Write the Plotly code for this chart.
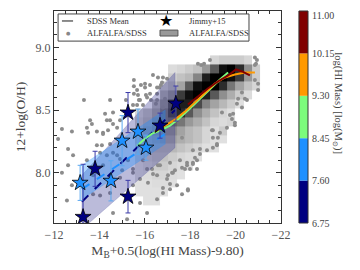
import plotly.graph_objects as go

# ---------------- data ----------------
# ALFALFA/SDSS individual galaxies (x = M_B+0.5(logMHI-9.8), y = 12+log(O/H))
pts_x = [-12.35,-13.32,-14.47,-15.52,-15.52,-15.83,-16.23,-16.36,-16.58,-16.71,-15.52,-16.05,-16.27,-16.54,
         -15.92,-15.66,-15.74,-14.60,-14.33,-13.59,-13.67,-13.45,-14.91,-16.49,-16.89,
         -16.80,-16.63,-16.01,-15.70,-16.10,-16.54,-15.17,-16.80,-15.48,-14.47,-14.78,-13.89,-14.16,-13.50,-12.79,
         -12.18,-12.62,-12.84,-12.62,-12.35,-12.79,-12.57,-13.89,-14.03,-14.33,-14.60,-14.91,-14.16,-14.47,-14.03,
         -14.60,-15.22,-15.79,-16.10,-16.54,-16.80,-17.11,-17.42,-15.48,-16.54,-16.98,-17.24,-16.10,-16.67,-17.11,
         -15.48,-15.00,-13.72,-13.72,-13.45,
         -17.64,-18.12,-17.86,-17.64,-18.12,-17.99,-18.30,-18.21,-18.43,-19.00,-19.18,-17.90,-17.77,
         -18.87,-18.34,-18.48,-20.94,-20.90,-20.85,-20.99,-20.28,-20.11,-20.28,-20.50,-19.75,-19.84,-19.97,-19.31,-19.00,
         -16.98,-16.76,-20.99,-20.06,-19.62,
         -18.61,-16.01,-15.66,-16.23,-16.54,-15.79,-20.41,-20.85,-20.85,
         -14.16,-14.38,-14.60,-14.25,-14.47,-14.11,-14.78,-15.26,-15.48,-15.92,-16.32,-16.36,-16.58,-17.02,-17.20,
         -17.33,-17.11,-16.80,-16.14,-15.79,-17.55,-17.86,-18.12,-18.30,-18.43,-18.74,-19.00,-19.22,-18.96,-19.18,
         -19.97,-19.89,-19.40,-17.90,-14.91,-17.64]
pts_y = [8.35,8.58,8.58,8.74,8.69,8.70,8.70,8.78,8.76,8.70,8.63,8.62,8.58,8.63,
         8.54,8.54,8.58,8.48,8.42,8.42,8.39,8.36,8.42,8.55,8.59,
         8.76,8.68,8.68,8.62,8.60,8.58,8.58,8.52,8.54,8.42,8.36,8.33,8.32,8.32,8.33,
         8.27,8.19,8.14,8.06,8.00,7.90,7.78,8.22,8.16,8.14,8.16,8.11,8.06,7.84,7.82,
         7.68,7.63,7.76,7.68,7.79,7.84,7.87,7.90,7.90,7.98,7.95,8.00,8.03,8.06,8.08,
         8.00,8.02,7.83,7.98,8.10,
         8.28,8.18,8.08,8.04,8.08,8.03,8.03,8.12,8.19,8.28,8.22,7.86,8.03,
         8.90,8.87,8.86,8.90,8.87,8.86,8.66,8.64,8.59,8.52,8.58,8.46,8.43,8.40,8.32,8.34,
         8.75,8.72,8.71,8.55,8.36,
         8.87,8.71,8.66,8.63,8.68,8.58,8.59,8.74,8.92,
         8.31,8.34,8.39,8.47,8.23,8.22,8.14,8.10,8.03,8.10,8.03,7.99,8.06,7.98,8.00,
         8.02,7.91,7.88,7.92,7.95,8.10,8.06,8.07,8.10,8.15,8.18,8.20,8.28,8.34,8.23,
         8.38,8.47,8.48,7.87,7.96,7.83]

# ALFALFA/SDSS 2D density (relative, 0 = empty), rows listed from top (high O/H) to bottom
hist_x_edges = [-15.57,-15.94,-16.31,-16.67,-17.04,-17.41,-17.78,-18.14,-18.51,
                -18.88,-19.25,-19.61,-19.98,-20.35,-20.72,-21.08,-21.45]
hist_y_edges_top_down = [8.936,8.866,8.795,8.725,8.654,8.584,8.514,8.443,8.373,
                         8.302,8.232,8.162,8.091,8.021,7.950,7.880,7.810,7.739]
hist_density_top_down = [
    [0,0,0,0,0,0,0,0,0,.15,.2,.2,.2,.15,0,0],
    [0,0,0,0,.12,.15,.2,.25,.45,.7,.95,1,.85,.5,.2,0],
    [0,0,0,0,.2,.25,.3,.55,.9,1,1,.95,.8,.45,.2,0],
    [0,0,0,.2,.3,.4,.7,.95,1,1,.85,.6,.4,.25,.15,0],
    [0,0,0,.35,.5,.8,.95,1,.9,.7,.5,.35,.2,.12,0,0],
    [0,0,.3,.5,.75,.9,.9,.75,.55,.4,.3,.2,.1,0,0,0],
    [.15,.25,.4,.6,.8,.85,.7,.5,.35,.25,.15,.1,0,0,0,0],
    [.2,.3,.45,.6,.65,.6,.45,.35,.25,.15,.12,.15,0,0,0,0],
    [.2,.35,.45,.5,.5,.4,.3,.25,.15,.1,.2,0,0,0,0,0],
    [.2,.3,.35,.4,.4,.35,.3,.25,.15,.1,.1,0,0,0,0,0],
    [.15,.25,.3,.3,.3,.25,.2,.15,.1,.1,0,0,0,0,0,0],
    [.12,.2,.25,.25,.2,.15,.12,.1,0,0,0,0,0,0,0,0],
    [.1,.15,.2,.2,.15,.12,.1,0,0,0,0,0,0,0,0,0],
    [.1,.12,.15,.15,.12,.1,0,0,0,0,0,0,0,0,0,0],
    [.1,.1,.12,.12,.1,0,0,0,0,0,0,0,0,0,0,0],
    [.1,.1,.1,.1,0,0,0,0,0,0,0,0,0,0,0,0],
    [0,.1,.1,0,0,0,0,0,0,0,0,0,0,0,0,0],
]

# SDSS mean relations per HI-mass bin
green_x = [-15.66,-16.01,-16.32,-16.67,-17.11,-17.55,-17.99,-18.43,-18.87,-19.31,-19.67]
green_y = [8.216,8.272,8.312,8.336,8.376,8.44,8.512,8.592,8.672,8.744,8.80]
orange_x = [-16.45,-16.89,-17.33,-17.77,-18.21,-18.65,-19.09,-19.53,-19.97,-20.41,-20.85]
orange_y = [8.328,8.376,8.424,8.488,8.56,8.64,8.712,8.76,8.784,8.80,8.80]
red_x = [-17.90,-18.34,-18.78,-19.22,-19.67,-20.02,-20.28,-20.63]
red_y = [8.544,8.608,8.672,8.728,8.776,8.824,8.808,8.776]

# ALFALFA/SDSS fit bands (corners) and fit lines
navy_band_x = [-13.23,-13.23,-17.33,-17.33]
navy_band_y = [7.55,7.98,8.80,8.20]
blue_band_x = [-13.23,-13.23,-16.9,-16.9]
blue_band_y = [7.79,8.06,8.50,8.23]
navy_fit_x = [-13.23,-17.33]
navy_fit_y = [7.77,8.50]
blue_fit_x = [-13.23,-16.9]
blue_fit_y = [7.87,8.31]

# Jimmy+15 galaxies
jn_x = [-13.28,-13.81,-15.26,-15.26,-16.67,-17.37]
jn_y = [7.648,8.032,7.81,8.48,8.376,8.552]
jn_err = [0.42,0.14,0.13,0.16,0.10,0.14]
jb_x = [-13.15,-14.51,-15.00,-15.70,-16.05]
jb_y = [7.92,7.936,8.256,8.328,8.20]
jb_err = [0.14,0.16,0.20,0.18,0.10]

cbar_ticks = ["6.75", "7.60", "8.45", "9.30", "10.15", "11.00"]
bin_colors = ["#000080", "#1E90FF", "#7CFC7C", "#FF9900", "#800000"]

FONT = "Liberation Serif"

fig = go.Figure()

fig.add_trace(go.Scatter(x=pts_x, y=pts_y, mode="markers",
                         marker=dict(size=4, color="#8c8c8c"), showlegend=False, hoverinfo="skip"))

# heatmap (bottom-up)
ye = hist_y_edges_top_down[::-1]
zz = [[(v if v > 0 else None) for v in row] for row in hist_density_top_down[::-1]]
fig.add_trace(go.Heatmap(x=hist_x_edges, y=ye, z=zz, zmin=0.1, zmax=1,
                         colorscale=[[0, "#e0e0e0"], [0.5, "#858585"], [1, "#000000"]],
                         showscale=False, hoverinfo="skip"))

fig.add_trace(go.Scatter(x=navy_band_x + [navy_band_x[0]], y=navy_band_y + [navy_band_y[0]],
                         fill="toself", fillcolor="rgba(60,60,150,0.35)", mode="lines",
                         line=dict(width=0.5, color="rgba(60,60,150,0.4)"), showlegend=False))
fig.add_trace(go.Scatter(x=blue_band_x + [blue_band_x[0]], y=blue_band_y + [blue_band_y[0]],
                         fill="toself", fillcolor="rgba(30,144,255,0.35)", mode="lines",
                         line=dict(width=0.5, color="rgba(30,144,255,0.4)"), showlegend=False))

fig.add_trace(go.Scatter(x=navy_fit_x, y=navy_fit_y, mode="lines",
                         line=dict(color="#000080", width=2, dash="dash"), showlegend=False))
fig.add_trace(go.Scatter(x=blue_fit_x, y=blue_fit_y, mode="lines",
                         line=dict(color="#1E90FF", width=2, dash="dash"), showlegend=False))

for lx, ly, c in [(green_x, green_y, bin_colors[2]), (orange_x, orange_y, bin_colors[3]),
                  (red_x, red_y, bin_colors[4])]:
    fig.add_trace(go.Scatter(x=lx, y=ly, mode="lines", line=dict(color=c, width=2), showlegend=False))

fig.add_trace(go.Scatter(x=jn_x, y=jn_y, mode="markers",
                         error_y=dict(type="data", array=jn_err, color="#3a3aa8", thickness=1, width=2.5),
                         marker=dict(symbol="star", size=12, color="#000080", line=dict(color="black", width=0.8)),
                         showlegend=False))
fig.add_trace(go.Scatter(x=jb_x, y=jb_y, mode="markers",
                         error_y=dict(type="data", array=jb_err, color="#5aa8f0", thickness=1, width=2.5),
                         marker=dict(symbol="star", size=12, color="#1E90FF", line=dict(color="black", width=0.8)),
                         showlegend=False))

axis_common = dict(showline=True, linecolor="#333", linewidth=1.3, mirror="ticks", ticks="inside",
                   ticklen=5, tickcolor="#333", showgrid=False, zeroline=False,
                   tickfont=dict(family=FONT, size=12, color="#555"))
fig.update_xaxes(range=[-12, -22], tickvals=[-12, -14, -16, -18, -20, -22],
                 minor=dict(ticks="inside", ticklen=3, dtick=0.5, tickcolor="#333"),
                 title=dict(text="M<sub>B</sub>+0.5(log(HI Mass)-9.80)", font=dict(family=FONT, size=13.5, color="#444"),
                            standoff=5),
                 **axis_common)
fig.update_yaxes(range=[7.6, 9.29], tickvals=[8.0, 8.5, 9.0], tickformat=".1f",
                 minor=dict(ticks="inside", ticklen=3, dtick=0.1, tickcolor="#333"),
                 title=dict(text="12+log(O/H)", font=dict(family=FONT, size=13.5, color="#444"), standoff=6),
                 **axis_common)

# legend (drawn manually in paper coordinates)
shapes = [
    dict(type="rect", xref="paper", yref="paper", x0=0.018, x1=0.859, y0=0.858, y1=0.986,
         line=dict(color="#444", width=1), fillcolor="white", layer="above"),
    dict(type="line", xref="paper", yref="paper", x0=0.035, x1=0.084, y0=0.953, y1=0.953,
         line=dict(color="#666", width=1.5), layer="above"),
    dict(type="rect", xref="paper", yref="paper", x0=0.467, x1=0.546, y0=0.882, y1=0.910,
         line=dict(color="#555", width=1), fillcolor="#999", layer="above"),
]
lf = dict(family=FONT, size=8.5, color="#333")
ann = [
    dict(x=0.137, y=0.953, text="SDSS Mean", xanchor="left", yanchor="middle", font=lf),
    dict(x=0.137, y=0.896, text="ALFALFA/SDSS", xanchor="left", yanchor="middle", font=lf),
    dict(x=0.586, y=0.953, text="Jimmy+15", xanchor="left", yanchor="middle", font=lf),
    dict(x=0.586, y=0.896, text="ALFALFA/SDSS", xanchor="left", yanchor="middle", font=lf),
    dict(x=0.062, y=0.896, text="●", xanchor="center", yanchor="middle",
         font=dict(family="DejaVu Sans", size=5, color="#888")),
    dict(x=0.493, y=0.955, text="★", xanchor="center", yanchor="middle",
         font=dict(family="DejaVu Sans", size=16, color="black")),
]

# discrete HI-mass colour bar (drawn as paper-space blocks beside the plot)
cb_x0, cb_x1 = 1.079, 1.119
n_bins = len(bin_colors)
for i, c in enumerate(bin_colors):
    shapes.append(dict(type="rect", xref="paper", yref="paper", x0=cb_x0, x1=cb_x1,
                       y0=i / n_bins, y1=(i + 1) / n_bins, line=dict(width=0), fillcolor=c))
shapes.append(dict(type="rect", xref="paper", yref="paper", x0=cb_x0, x1=cb_x1, y0=0, y1=1,
                   line=dict(color="#333", width=1), fillcolor="rgba(0,0,0,0)"))
for i, t in enumerate(cbar_ticks):
    top = i == len(cbar_ticks) - 1
    ann.append(dict(x=cb_x1 + 0.008, y=i / n_bins, text=t, xanchor="left",
                    yanchor="top" if top else "middle", yshift=3 if top else 0,
                    font=dict(family=FONT, size=10, color="#444")))
ann.append(dict(x=1.25, y=0.566, text="log(HI Mass) [log(M<sub>⊙</sub>)]", textangle=90,
                xanchor="center", yanchor="middle", font=dict(family=FONT, size=10.5, color="#444")))

for a in ann:
    a.update(xref="paper", yref="paper", showarrow=False)

# the page body adds an 8px offset, so the figure is sized to fit inside the 360x270 window
fig.update_layout(width=344, height=254, margin=dict(l=46, r=71, t=3, b=39, autoexpand=False),
                  paper_bgcolor="white", plot_bgcolor="white", shapes=shapes, annotations=ann,
                  showlegend=False)

fig.write_html("out.html")
